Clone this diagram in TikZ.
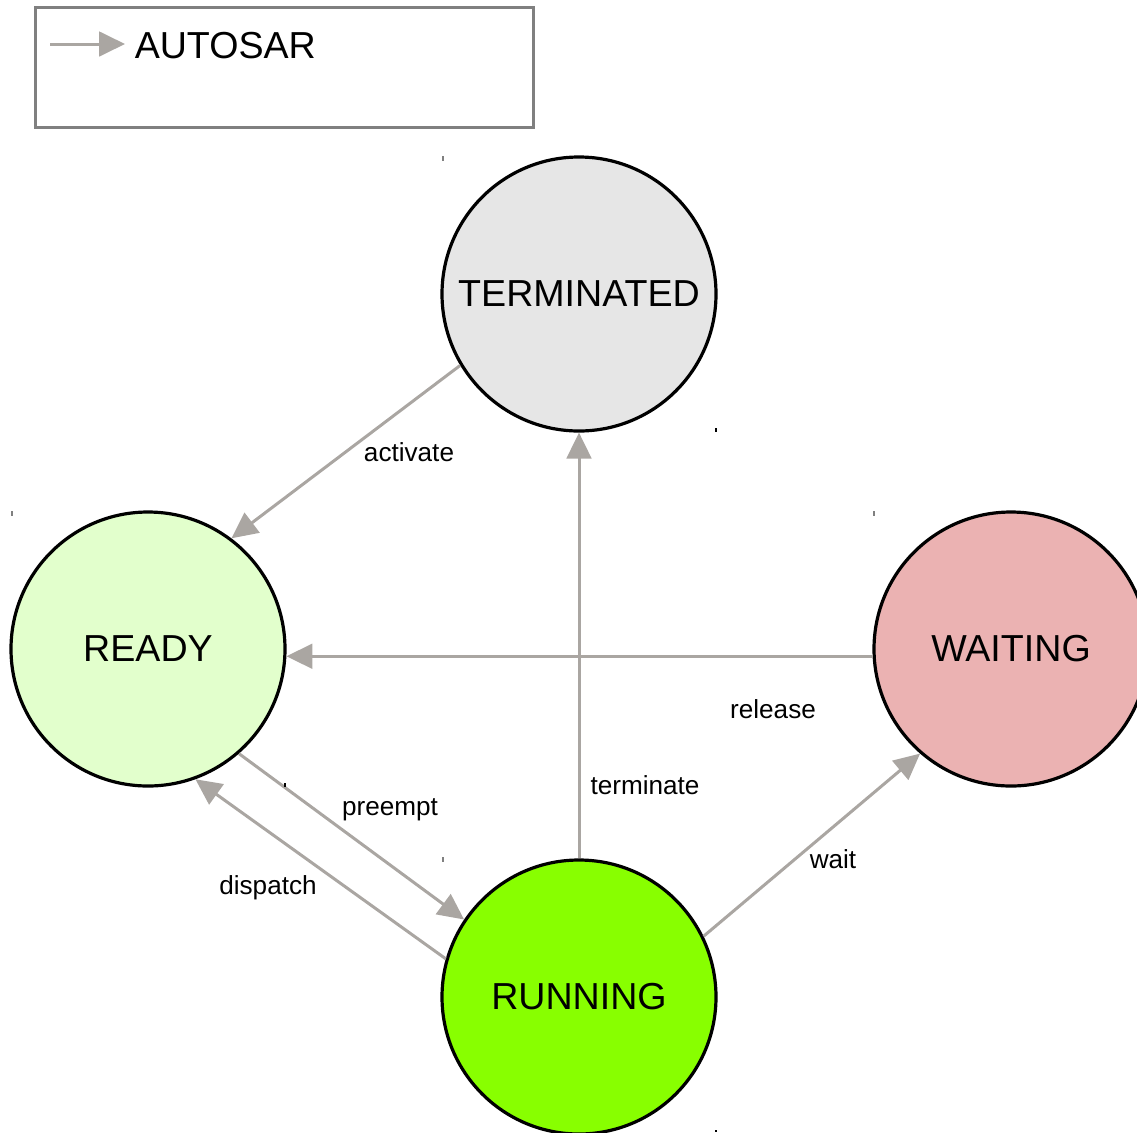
\documentclass[tikz,border=0pt]{standalone}
\usepackage{fontspec}
\setmainfont{Liberation Sans}
\usetikzlibrary{arrows.meta}

\definecolor{edgegray}{RGB}{170,166,162}
\definecolor{framegray}{RGB}{128,128,128}
\definecolor{termfill}{RGB}{230,230,230}
\definecolor{readyfill}{RGB}{226,255,204}
\definecolor{waitfill}{RGB}{235,178,178}
\definecolor{runfill}{RGB}{136,255,0}

\tikzset{
  state/.style={circle, draw=black, line width=2.4pt, minimum size=205.5pt,
    inner sep=0pt, font=\fontsize{28.2}{33}\selectfont},
  transition/.style={draw=edgegray, line width=2.25pt,
    -{Triangle[length=19.5pt,width=18.5pt]}},
  elabel/.style={anchor=base, inner sep=0pt, font=\fontsize{19.6}{23}\selectfont},
  tickgray/.style={draw=framegray, line width=1.1pt},
  tickblack/.style={draw=black, line width=1.1pt},
}

\begin{document}
\begin{tikzpicture}[x=0.75pt, y=-0.75pt]
  \useasboundingbox (0,0) rectangle (1137,1132);

  % legend
  \node[draw=framegray, line width=2.25pt, anchor=north west, inner sep=0pt,
        minimum width=373.5pt, minimum height=90pt] (legend) at (34,6) {};
  \coordinate (legA) at (50,44);
  \coordinate (legB) at (125,44);
  \draw[transition] (legA) -- (legB);
  \node[anchor=base west, inner sep=0pt, font=\fontsize{28.2}{33}\selectfont]
    (legtext) at (134.5,58) {AUTOSAR};

  % states
  \node[state, fill=termfill]  (term)  at (579,294) {TERMINATED};
  \node[state, fill=readyfill] (ready) at (148,649) {READY};
  \node[state, fill=waitfill]  (wait)  at (1011,649) {WAITING};
  \node[state, fill=runfill]   (run)   at (579,997) {RUNNING};

  % transitions
  \draw[transition] (term.211.9) -- (ready.53.6);
  \draw[transition] (run.north) -- (term.south);
  \draw[transition] (wait.183.35) -- (ready.-3.35);
  \draw[transition] (ready.-49.9) -- (run.146.4);
  \draw[transition] (run.164.8) -- (ready.-70);
  \draw[transition] (run.26.7) -- (wait.229.3);

  % transition labels
  \node[elabel] (lactivate)  at (409,461) {activate};
  \node[elabel] (lrelease)   at (773,718) {release};
  \node[elabel] (lterminate) at (645,794) {terminate};
  \node[elabel] (lpreempt)   at (390,815) {preempt};
  \node[elabel] (ldispatch)  at (268,894) {dispatch};
  \node[elabel] (lwait)      at (833,868) {wait};

  % small corner marks
  \draw[tickgray]  (443,156) -- (443,161);
  \draw[tickblack] (716,428) -- (716,432);
  \draw[tickgray]  (12,511) -- (12,516);
  \draw[tickblack] (285,783) -- (285,787);
  \draw[tickgray]  (874,511) -- (874,516);
  \draw[tickgray]  (443,857) -- (443,862);
  \draw[tickblack] (716,1130) -- (716,1132);
\end{tikzpicture}
\end{document}
